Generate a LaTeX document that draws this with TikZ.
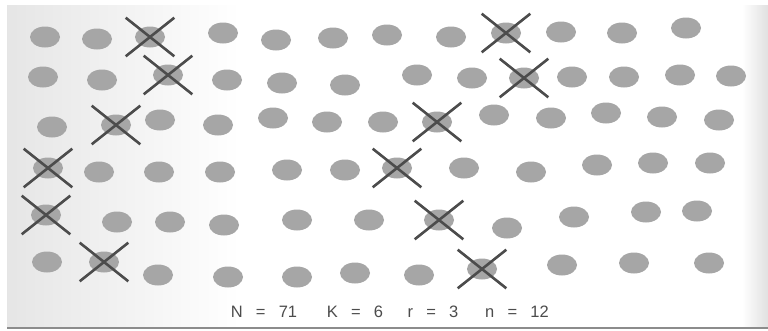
\documentclass[tikz,border=0pt]{standalone}
\usepackage{fontspec}
\setsansfont{Liberation Sans}
\usetikzlibrary{shapes.geometric,shapes.misc}

\newcommand{\eqsign}{\hspace{0.8em}=\hspace{0.8em}}

\tikzset{
  dot/.style={ellipse, fill=black!35, minimum width=30pt, minimum height=21pt, inner sep=0pt},
  crossed/.style={cross out, draw=black!70, line width=2.6pt, minimum width=46pt, minimum height=36pt, inner sep=0pt},
  stat/.style={font=\sffamily\fontsize{16.5}{20}\selectfont, text=black!70, anchor=base, inner sep=0pt}
}

\begin{document}
\begin{tikzpicture}[x=1pt, y=-1pt]
  \useasboundingbox (0,0) rectangle (768,330);
  % Page
  \fill[white] (0,0) rectangle (768,330);
  \shade[left color=black!10, right color=white] (7,5) rectangle (240,327);
  \shade[left color=white, right color=black!12] (742,5) rectangle (768,327);
  \draw[black!45, line width=1.5pt] (7,328) -- (768,328);
  % Row 1
  \node[dot] (a1) at (45,37) {};
  \node[dot] (a2) at (97,39) {};
  \node[dot] (a3) at (150,37) {};
  \node[dot] (a4) at (223,33) {};
  \node[dot] (a5) at (276,40) {};
  \node[dot] (a6) at (333,38) {};
  \node[dot] (a7) at (387,35) {};
  \node[dot] (a8) at (451,37) {};
  \node[dot] (a9) at (506,33) {};
  \node[dot] (a10) at (561,32) {};
  \node[dot] (a11) at (622,33) {};
  \node[dot] (a12) at (686,28) {};
  % Row 2
  \node[dot] (b1) at (43,77) {};
  \node[dot] (b2) at (102,80) {};
  \node[dot] (b3) at (168,75) {};
  \node[dot] (b4) at (227,80) {};
  \node[dot] (b5) at (282,83) {};
  \node[dot] (b6) at (345,85) {};
  \node[dot] (b7) at (417,75) {};
  \node[dot] (b8) at (472,78) {};
  \node[dot] (b9) at (524,78) {};
  \node[dot] (b10) at (572,77) {};
  \node[dot] (b11) at (624,77) {};
  \node[dot] (b12) at (680,75) {};
  \node[dot] (b13) at (731,76) {};
  % Row 3
  \node[dot] (c1) at (52,127) {};
  \node[dot] (c2) at (116,125) {};
  \node[dot] (c3) at (160,120) {};
  \node[dot] (c4) at (218,125) {};
  \node[dot] (c5) at (273,118) {};
  \node[dot] (c6) at (327,122) {};
  \node[dot] (c7) at (383,122) {};
  \node[dot] (c8) at (437,122) {};
  \node[dot] (c9) at (494,115) {};
  \node[dot] (c10) at (551,118) {};
  \node[dot] (c11) at (606,113) {};
  \node[dot] (c12) at (662,117) {};
  \node[dot] (c13) at (719,120) {};
  % Row 4
  \node[dot] (d1) at (48,168) {};
  \node[dot] (d2) at (99,172) {};
  \node[dot] (d3) at (159,172) {};
  \node[dot] (d4) at (220,172) {};
  \node[dot] (d5) at (287,170) {};
  \node[dot] (d6) at (345,170) {};
  \node[dot] (d7) at (397,168) {};
  \node[dot] (d8) at (464,168) {};
  \node[dot] (d9) at (531,172) {};
  \node[dot] (d10) at (597,165) {};
  \node[dot] (d11) at (653,163) {};
  \node[dot] (d12) at (710,163) {};
  % Row 5
  \node[dot] (e1) at (46,215) {};
  \node[dot] (e2) at (117,222) {};
  \node[dot] (e3) at (170,222) {};
  \node[dot] (e4) at (224,225) {};
  \node[dot] (e5) at (297,220) {};
  \node[dot] (e6) at (369,220) {};
  \node[dot] (e7) at (439,220) {};
  \node[dot] (e8) at (507,228) {};
  \node[dot] (e9) at (574,217) {};
  \node[dot] (e10) at (646,212) {};
  \node[dot] (e11) at (697,211) {};
  % Row 6
  \node[dot] (f1) at (47,262) {};
  \node[dot] (f2) at (104,262) {};
  \node[dot] (f3) at (158,275) {};
  \node[dot] (f4) at (228,277) {};
  \node[dot] (f5) at (297,277) {};
  \node[dot] (f6) at (355,273) {};
  \node[dot] (f7) at (419,275) {};
  \node[dot] (f8) at (482,269) {};
  \node[dot] (f9) at (562,265) {};
  \node[dot] (f10) at (634,263) {};
  \node[dot] (f11) at (709,263) {};
  % Crosses
  \node[crossed] (xa3) at (a3) {};
  \node[crossed] (xa9) at (a9) {};
  \node[crossed] (xb3) at (b3) {};
  \node[crossed] (xb9) at (b9) {};
  \node[crossed] (xc2) at (c2) {};
  \node[crossed] (xc8) at (c8) {};
  \node[crossed] (xd1) at (d1) {};
  \node[crossed] (xd7) at (d7) {};
  \node[crossed] (xe1) at (e1) {};
  \node[crossed] (xe7) at (e7) {};
  \node[crossed] (xf2) at (f2) {};
  \node[crossed] (xf8) at (f8) {};
  % Numbers
  \node[stat] (bigN) at (264,317) {N\eqsign 71};
  \node[stat] (bigK) at (355,317) {K\eqsign 6};
  \node[stat] (smallr) at (433,317) {r\eqsign 3};
  \node[stat] (smalln) at (517,317) {n\eqsign 12};
\end{tikzpicture}
\end{document}
